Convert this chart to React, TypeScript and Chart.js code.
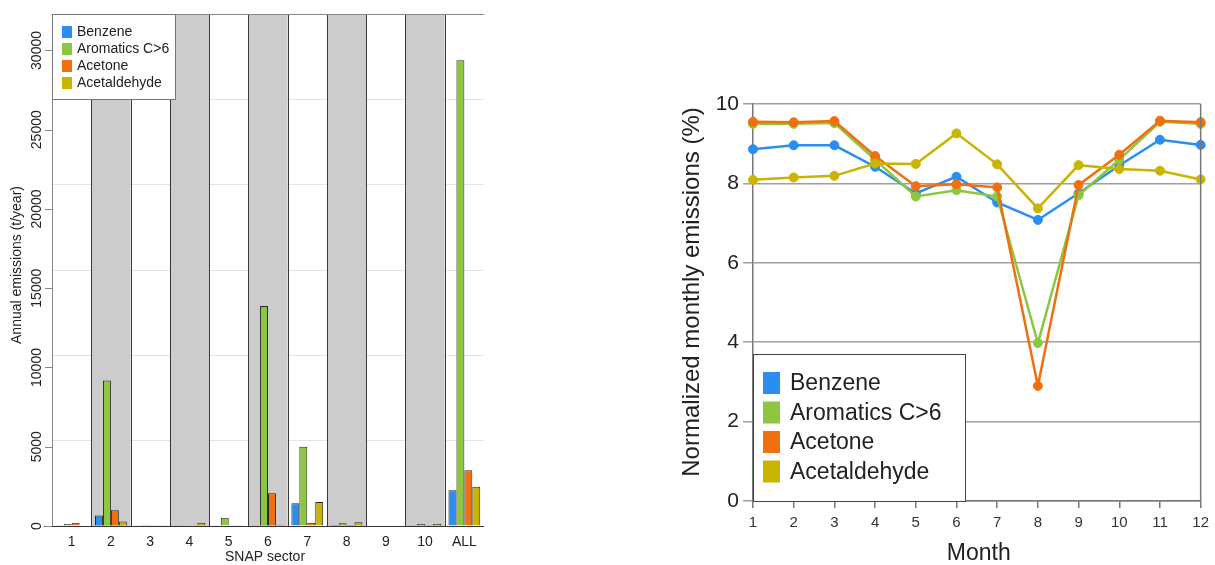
import React, { useEffect, useRef } from "react";
import { Chart, registerables } from "chart.js";

Chart.register(...registerables);

const FONT = '"Liberation Sans", Arial, Helvetica, sans-serif';

// ---------- Left chart data ----------
const sectors = ["1", "2", "3", "4", "5", "6", "7", "8", "9", "10", "ALL"];
const benzeneAnnual = [20, 660, 20, 20, 20, 30, 1430, 60, 10, 20, 2250];
const aromaticsAnnual = [130, 9180, 80, 30, 520, 13880, 5000, 180, 10, 120, 29380];
const acetoneAnnual = [200, 1000, 20, 30, 20, 2070, 210, 60, 10, 40, 3520];
const acetaldehydeAnnual = [30, 280, 20, 210, 20, 80, 1510, 240, 10, 120, 2480];
const annualTicks = [0, 5000, 10000, 15000, 20000, 25000, 30000];

// ---------- Right chart data ----------
const months = ["1", "2", "3", "4", "5", "6", "7", "8", "9", "10", "11", "12"];
const benzeneMonthly = [8.86, 8.96, 8.96, 8.42, 7.75, 8.17, 7.52, 7.08, 7.75, 8.45, 9.1, 8.97];
const aromaticsMonthly = [9.5, 9.5, 9.52, 8.6, 7.67, 7.83, 7.67, 3.98, 7.7, 8.6, 9.55, 9.5];
const acetoneMonthly = [9.55, 9.54, 9.57, 8.69, 7.93, 7.98, 7.9, 2.9, 7.96, 8.72, 9.58, 9.54];
const acetaldehydeMonthly = [8.09, 8.15, 8.19, 8.5, 8.49, 9.26, 8.48, 7.37, 8.46, 8.36, 8.32, 8.1];

const seriesNames = ["Benzene", "Aromatics C>6", "Acetone", "Acetaldehyde"];
const seriesColors = ["#2a8ef0", "#8dc63f", "#f0700f", "#c9b400"];

function LeftChart() {
  const ref = useRef<HTMLCanvasElement>(null);
  useEffect(() => {
    const canvas = ref.current!;
    const bandPlugin = {
      id: "bands",
      beforeDatasetsDraw(chart: any) {
        const ctx = chart.ctx;
        const x = chart.scales.x;
        const area = chart.chartArea;
        const slot = (x.right - x.left) / sectors.length;
        ctx.save();
        for (let i = 1; i < sectors.length; i += 2) {
          const c = x.getPixelForValue(i);
          const l = c - slot / 2;
          const r = c + slot / 2;
          ctx.fillStyle = "#cccccc";
          ctx.fillRect(l, area.top, r - l, area.bottom - area.top);
          ctx.strokeStyle = "#3a3a3a";
          ctx.lineWidth = 1;
          ctx.beginPath();
          ctx.moveTo(Math.round(l) + 0.5, area.top);
          ctx.lineTo(Math.round(l) + 0.5, area.bottom);
          ctx.moveTo(Math.round(r) + 0.5, area.top);
          ctx.lineTo(Math.round(r) + 0.5, area.bottom);
          ctx.stroke();
        }
        ctx.restore();
      },
      afterDraw(chart: any) {
        const ctx = chart.ctx;
        const y = chart.scales.y;
        const area = chart.chartArea;
        ctx.save();
        // frame top/left
        ctx.strokeStyle = "#888";
        ctx.lineWidth = 1;
        ctx.beginPath();
        ctx.moveTo(area.left, area.top + 0.5);
        ctx.lineTo(area.right, area.top + 0.5);
        ctx.moveTo(area.left + 0.5, area.top);
        ctx.lineTo(area.left + 0.5, area.bottom);
        ctx.stroke();
        // bottom axis line
        ctx.strokeStyle = "#333";
        ctx.beginPath();
        ctx.moveTo(area.left - 8, area.bottom + 0.5);
        ctx.lineTo(area.right, area.bottom + 0.5);
        ctx.stroke();
        // y ticks
        ctx.font = `14px ${FONT}`;
        ctx.fillStyle = "#222";
        ctx.textAlign = "center";
        ctx.textBaseline = "middle";
        annualTicks.forEach((v) => {
          const py = y.getPixelForValue(v);
          ctx.strokeStyle = "#888";
          ctx.beginPath();
          ctx.moveTo(area.left - 7, Math.round(py) + 0.5);
          ctx.lineTo(area.left, Math.round(py) + 0.5);
          ctx.stroke();
          ctx.save();
          ctx.translate(area.left - 15, py);
          ctx.rotate(-Math.PI / 2);
          ctx.fillText(String(v), 0, 0);
          ctx.restore();
        });
        // y title
        ctx.save();
        ctx.font = `14px ${FONT}`;
        ctx.translate(17, 265);
        ctx.rotate(-Math.PI / 2);
        ctx.fillText("Annual emissions (t/year)", 0, 0);
        ctx.restore();
        // x title
        ctx.font = `14px ${FONT}`;
        ctx.fillText("SNAP sector", 265, 557);
        // legend
        const lx = area.left, ly = area.top, lw = 123, lh = 85;
        ctx.fillStyle = "#fff";
        ctx.fillRect(lx, ly, lw, lh);
        ctx.strokeStyle = "#777";
        ctx.strokeRect(lx + 0.5, ly + 0.5, lw, lh);
        ctx.textAlign = "left";
        ctx.font = `14px ${FONT}`;
        seriesNames.forEach((n, i) => {
          const cy = ly + 18 + i * 17;
          ctx.fillStyle = seriesColors[i];
          ctx.fillRect(lx + 10, cy - 6, 10, 12);
          ctx.fillStyle = "#222";
          ctx.fillText(n, lx + 25, cy);
        });
        ctx.restore();
      },
    };

    const data = [benzeneAnnual, aromaticsAnnual, acetoneAnnual, acetaldehydeAnnual];
    const chart = new Chart(canvas, {
      type: "bar",
      data: {
        labels: sectors,
        datasets: data.map((d, i) => ({
          label: seriesNames[i],
          data: d,
          backgroundColor: seriesColors[i],
          borderColor: "#2a2a2a",
          borderWidth: 1,
          barPercentage: 1,
          categoryPercentage: 0.81,
        })),
      },
      options: {
        responsive: false,
        animation: false,
        layout: { padding: { left: 0, top: 14, right: 16, bottom: 0 } },
        plugins: { legend: { display: false }, tooltip: { enabled: false } },
        scales: {
          x: {
            type: "category",
            offset: true,
            grid: { display: false, drawTicks: false },
            border: { display: false },
            ticks: { font: { size: 14, family: FONT }, color: "#222", padding: 8 },
            afterFit: (s: any) => { s.height = 39; },
          },
          y: {
            min: 0,
            max: 32300,
            ticks: { display: false, stepSize: 5000 },
            grid: { color: "#e4e4e4", drawTicks: false },
            border: { display: false },
            afterFit: (s: any) => { s.width = 52; },
          },
        },
      },
      plugins: [bandPlugin],
    });
    return () => chart.destroy();
  }, []);
  return (
    <canvas
      ref={ref}
      width={500}
      height={565}
      style={{ position: "absolute", left: 0, top: 0, width: 500, height: 565 }}
    />
  );
}

function RightChart() {
  const ref = useRef<HTMLCanvasElement>(null);
  useEffect(() => {
    const canvas = ref.current!;
    const deco = {
      id: "deco",
      afterDraw(chart: any) {
        const ctx = chart.ctx;
        const area = chart.chartArea;
        ctx.save();
        ctx.strokeStyle = "#777";
        ctx.lineWidth = 1.5;
        ctx.beginPath();
        ctx.moveTo(area.right, area.top);
        ctx.lineTo(area.right, area.bottom);
        ctx.stroke();
        // y title
        ctx.fillStyle = "#222";
        ctx.textAlign = "center";
        ctx.textBaseline = "middle";
        ctx.save();
        ctx.font = `24px ${FONT}`;
        ctx.translate(92, 292);
        ctx.rotate(-Math.PI / 2);
        ctx.fillText("Normalized monthly emissions (%)", 0, 0);
        ctx.restore();
        // x title
        ctx.font = `23px ${FONT}`;
        ctx.fillText("Month", (area.left + area.right) / 2 + 2, 554);
        // legend
        const lx = area.left, lw = 212, lh = 147;
        const ly = area.bottom - lh;
        ctx.fillStyle = "#fff";
        ctx.fillRect(lx, ly, lw, lh);
        ctx.strokeStyle = "#444";
        ctx.lineWidth = 1;
        ctx.strokeRect(lx + 0.5, ly + 0.5, lw, lh);
        ctx.textAlign = "left";
        ctx.font = `23px ${FONT}`;
        seriesNames.forEach((n, i) => {
          const cy = ly + 29 + i * 29.5;
          ctx.fillStyle = seriesColors[i];
          ctx.fillRect(lx + 10, cy - 11, 17, 22);
          ctx.fillStyle = "#222";
          ctx.fillText(n, lx + 37, cy + 1);
        });
        ctx.restore();
      },
    };
    const data = [benzeneMonthly, aromaticsMonthly, acetoneMonthly, acetaldehydeMonthly];
    const chart = new Chart(canvas, {
      type: "line",
      data: {
        labels: months,
        datasets: data.map((d, i) => ({
          label: seriesNames[i],
          data: d,
          borderColor: seriesColors[i],
          backgroundColor: seriesColors[i],
          pointBackgroundColor: seriesColors[i],
          pointBorderColor: seriesColors[i],
          borderWidth: 2.5,
          pointRadius: 4.5,
          pointBorderWidth: 1,
          tension: 0,
          order: 4 - i,
        })),
      },
      options: {
        responsive: false,
        animation: false,
        layout: { padding: { left: 0, top: 104, right: 10, bottom: 0 } },
        plugins: { legend: { display: false }, tooltip: { enabled: false } },
        scales: {
          x: {
            type: "category",
            offset: false,
            grid: { drawOnChartArea: false, drawTicks: true, tickLength: 7, color: "#777", lineWidth: 1.5 },
            border: { color: "#777", width: 1.5 },
            ticks: { font: { size: 15, family: FONT }, color: "#333", padding: 6, maxRotation: 0, autoSkip: false },
            afterFit: (s: any) => { s.height = 64; },
          },
          y: {
            min: 0,
            max: 10,
            ticks: { stepSize: 2, font: { size: 21, family: FONT }, color: "#222", padding: 4 },
            grid: { color: "#a0a0a0", lineWidth: 1.5, tickLength: 10 },
            border: { color: "#777", width: 1.5 },
            afterFit: (s: any) => { s.width = 153; },
          },
        },
      },
      plugins: [deco],
    });
    return () => chart.destroy();
  }, []);
  return (
    <canvas
      ref={ref}
      width={615}
      height={565}
      style={{ position: "absolute", left: 600, top: 0, width: 615, height: 565 }}
    />
  );
}

export default function App() {
  return (
    <div
      style={{
        position: "fixed",
        left: 0,
        top: 0,
        width: 1215,
        height: 565,
        background: "#fff",
        overflow: "hidden",
      }}
    >
      <LeftChart />
      <RightChart />
    </div>
  );
}
